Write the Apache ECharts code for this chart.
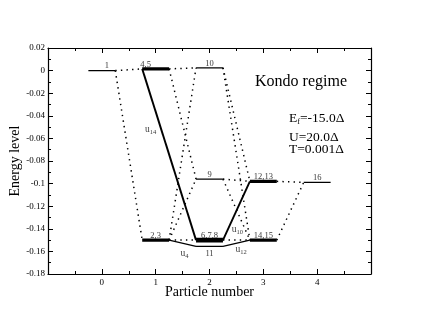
<!DOCTYPE html>
<html>
<head>
<meta charset="utf-8">
<script src="https://cdn.jsdelivr.net/npm/echarts@6/dist/echarts.min.js"></script>
<style>
  html, body { margin: 0; padding: 0; background: #fff; }
  #chart { width: 430px; height: 332px; }
</style>
</head>
<body>
<div id="chart"></div>
<script>
// levels of the spectrum
const levelNames = ['1', '2,3', '4,5', '6,7,8', '9', '10', '11', '12,13', '14,15', '16']
const levelN = [0, 1, 1, 2, 2, 2, 2, 3, 3, 4]
const levelE = [0, -0.150, 0.0015, -0.150, -0.096, 0.0025, -0.1555, -0.098, -0.150, -0.099]
const levelDeg = [1, 2, 2, 3, 1, 1, 1, 2, 2, 1]

// dotted transitions
const dottedFrom = ['1', '1', '4,5', '4,5', '2,3', '2,3', '2,3', '6,7,8', '9', '9', '10', '10', '12,13', '14,15']
const dottedTo = ['4,5', '2,3', '10', '9', '6,7,8', '10', '9', '14,15', '12,13', '14,15', '12,13', '14,15', '16', '16']

// solid transitions u_k
const solidFrom = ['4,5', '2,3', '6,7,8', '11']
const solidTo = ['6,7,8', '11', '12,13', '14,15']
const solidNames = ['14', '4', '10', '12']

const xTickMin = -1
const xTickMax = 5
const yTickMin = -0.18
const yTickMax = 0.02

const FONT = 'Liberation Serif'
const HALF = 0.25

const idx = (name) => levelNames.indexOf(name)
const leftEnd = (name) => [levelN[idx(name)] - HALF, levelE[idx(name)]]
const rightEnd = (name) => [levelN[idx(name)] + HALF, levelE[idx(name)]]

const series = []

// 能级
levelNames.forEach((name, i) => {
  series.push({
    type: 'line',
    data: [[levelN[i] - HALF, levelE[i]], [levelN[i] + HALF, levelE[i]]],
    symbol: 'none',
    silent: true,
    lineStyle: { color: '#000', width: { 1: 1.3, 2: 3.2, 3: 4.6 }[levelDeg[i]] },
    z: 3
  })
})

// 虚线跃迁
dottedFrom.forEach((from, i) => {
  series.push({
    type: 'line',
    data: [rightEnd(from), leftEnd(dottedTo[i])],
    symbol: 'none',
    silent: true,
    lineStyle: { color: '#000', width: 1.5, type: [1.4, 4.2] },
    z: 2
  })
})

// 实线跃迁, u14 starts from the left end of 4,5
const solidWidth = { '14': 1.9, '4': 1.2, '10': 1.9, '12': 1.2 }
const solidLabel = {
  '14': { t: 0.36, offset: [-11, -1] },
  '4': { t: 0.5, offset: [2, 10] },
  '10': { t: 0.2, offset: [9, 1] },
  '12': { t: 0.6, offset: [2, 7] }
}
const labelData = []
solidFrom.forEach((from, i) => {
  const k = solidNames[i]
  const a = k === '14' ? leftEnd(from) : rightEnd(from)
  const b = leftEnd(solidTo[i])
  series.push({
    type: 'line',
    data: [a, b],
    symbol: 'none',
    silent: true,
    lineStyle: { color: '#000', width: solidWidth[k] },
    z: 3
  })
  const t = solidLabel[k].t
  labelData.push({
    value: [a[0] + (b[0] - a[0]) * t, a[1] + (b[1] - a[1]) * t],
    label: {
      show: true,
      position: 'inside',
      offset: solidLabel[k].offset,
      formatter: '{u|u}{s|' + k + '}'
    }
  })
})

// level labels
const levelLabelOffset = { '1': [5, 0], '4,5': [-10, 0] }
levelNames.forEach((name, i) => {
  labelData.push({
    value: [levelN[i], levelE[i]],
    label: {
      show: true,
      position: name === '11' ? 'bottom' : 'top',
      distance: name === '11' ? 3 : 0,
      offset: levelLabelOffset[name] || [0, 0],
      formatter: name,
      fontSize: 8.5,
      color: '#000',
      fontFamily: FONT
    }
  })
})

series.push({
  type: 'scatter',
  symbolSize: 0,
  silent: true,
  data: labelData,
  label: {
    color: '#000',
    fontFamily: FONT,
    rich: {
      u: { fontSize: 9.5, fontFamily: FONT, color: '#000', lineHeight: 13, verticalAlign: 'middle' },
      s: { fontSize: 6.5, fontFamily: FONT, color: '#000', lineHeight: 13, verticalAlign: 'bottom' }
    }
  },
  z: 5
})

const tickStyle = { color: '#000', width: 1 }
const baseX = {
  type: 'value', min: xTickMin, max: xTickMax, interval: 1,
  axisLine: { onZero: false, lineStyle: { color: '#000', width: 1.2 } },
  axisTick: { inside: true, length: 5, lineStyle: tickStyle },
  minorTick: { show: true, splitNumber: 2, length: 3, lineStyle: tickStyle },
  splitLine: { show: false }
}
const baseY = {
  type: 'value', min: yTickMin, max: yTickMax, interval: 0.02,
  axisLine: { onZero: false, lineStyle: { color: '#000', width: 1.2 } },
  axisTick: { inside: true, length: 5, lineStyle: tickStyle },
  minorTick: { show: true, splitNumber: 2, length: 3, lineStyle: tickStyle },
  splitLine: { show: false }
}

const option = {
  animation: false,
  backgroundColor: '#fff',
  grid: { left: 48, right: 59, top: 48, bottom: 58, containLabel: false, outerBoundsMode: 'none' },
  xAxis: [
    {
      ...baseX,
      position: 'bottom',
      axisLabel: { showMinLabel: false, showMaxLabel: false, margin: 4, fontSize: 9, color: '#000', fontFamily: FONT },
      name: 'Particle number',
      nameLocation: 'middle',
      nameGap: 11.5,
      nameMoveOverlap: false,
      nameTextStyle: { fontSize: 14, color: '#000', fontFamily: FONT }
    },
    { ...baseX, position: 'top', axisLabel: { show: false } }
  ],
  yAxis: [
    {
      ...baseY,
      position: 'left',
      axisLabel: {
        margin: 3, fontSize: 9, color: '#000', fontFamily: FONT,
        formatter: (v) => String(+v.toFixed(2))
      },
      name: 'Energy level',
      nameLocation: 'middle',
      nameGap: 26,
      nameMoveOverlap: false,
      nameTextStyle: { fontSize: 14, color: '#000', fontFamily: FONT }
    },
    { ...baseY, position: 'right', axisLabel: { show: false } }
  ],
  graphic: [
    {
      type: 'text', left: 255, top: 74,
      style: { text: 'Kondo regime', fontSize: 16, fontFamily: FONT, fill: '#000' }
    },
    {
      type: 'text', left: 289, top: 111,
      style: {
        text: '{a|E}{b|f}{a|=-15.0Δ}',
        rich: {
          a: { fontSize: 13.5, fontFamily: FONT, fill: '#000', lineHeight: 16, verticalAlign: 'middle' },
          b: { fontSize: 8, fontFamily: FONT, fill: '#000', lineHeight: 16, verticalAlign: 'bottom' }
        }
      }
    },
    {
      type: 'text', left: 289, top: 130,
      style: { text: 'U=20.0Δ', fontSize: 13.5, fontFamily: FONT, fill: '#000' }
    },
    {
      type: 'text', left: 289, top: 142,
      style: { text: 'T=0.001Δ', fontSize: 13.5, fontFamily: FONT, fill: '#000' }
    }
  ],
  series
}

const myChart = echarts.init(document.getElementById('chart'))
myChart.setOption(option)
</script>
</body>
</html>
